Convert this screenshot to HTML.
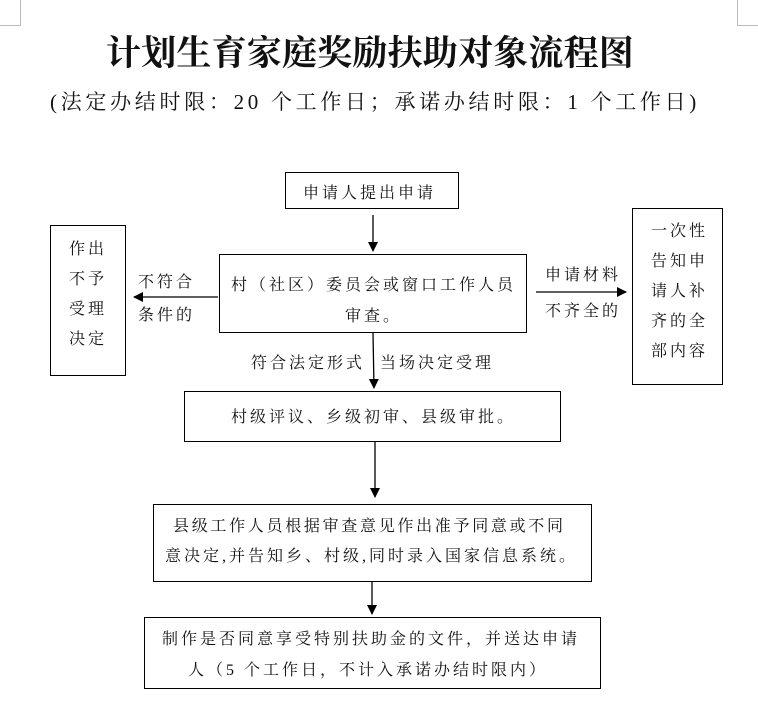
<!DOCTYPE html>
<html><head><meta charset="utf-8"><style>
body{margin:0;width:758px;height:719px;background:#fff;position:relative;overflow:hidden;font-family:"Liberation Serif","Noto Serif CJK SC",serif;color:#111}
.a{position:absolute;white-space:nowrap}
.b{position:absolute;border:1.5px solid #000;box-sizing:border-box}
.t{font-size:16px;letter-spacing:3px}
.l{position:absolute;background:#000}
</style></head><body>
<div class="l" style="left:20px;top:0;width:1px;height:25px;background:#bbb"></div>
<div class="l" style="left:0;top:25px;width:21px;height:1px;background:#bbb"></div>
<div class="l" style="left:737px;top:0;width:1px;height:25px;background:#bbb"></div>
<div class="l" style="left:737px;top:25px;width:21px;height:1px;background:#bbb"></div>

<div class="a" style="left:106px;top:26px;font-size:35px;font-weight:bold;letter-spacing:0.2px">计划生育家庭奖励扶助对象流程图</div>
<div class="a" style="left:50px;top:86px;font-size:21px;letter-spacing:3.7px">(法定办结时限：20 个工作日；承诺办结时限：1 个工作日)</div>

<div class="b" style="left:285px;top:172px;width:174px;height:37px"></div>
<div class="a t" style="left:303px;top:180px">申请人提出申请</div>

<div class="b" style="left:219px;top:254px;width:308px;height:79px"></div>
<div class="a t" style="left:231px;top:272px">村（社区）委员会或窗口工作人员</div>
<div class="a t" style="left:345px;top:303px">审查。</div>

<div class="b" style="left:50px;top:225px;width:76px;height:151px"></div>
<div class="a t" style="left:69px;top:235px;line-height:30px;white-space:normal;width:40px">作出不予受理决定</div>

<div class="b" style="left:632px;top:208px;width:91px;height:177px"></div>
<div class="a t" style="left:651px;top:217px;line-height:30px;white-space:normal;width:60px">一次性告知申请人补齐的全部内容</div>

<div class="a t" style="left:138px;top:269px">不符合</div>
<div class="a t" style="left:138px;top:302px">条件的</div>
<div class="a t" style="left:545px;top:262px">申请材料</div>
<div class="a t" style="left:545px;top:298px">不齐全的</div>
<div class="a t" style="left:251px;top:350px">符合法定形式</div>
<div class="a t" style="left:380px;top:350px">当场决定受理</div>

<div class="b" style="left:184px;top:391px;width:377px;height:51px"></div>
<div class="a t" style="left:231px;top:404px">村级评议、乡级初审、县级审批。</div>

<div class="b" style="left:153px;top:504px;width:439px;height:78px"></div>
<div class="a t" style="left:173px;top:513px;letter-spacing:2.7px">县级工作人员根据审查意见作出准予同意或不同</div>
<div class="a t" style="left:165px;top:543px;letter-spacing:3px">意决定,并告知乡、村级,同时录入国家信息系统。</div>

<div class="b" style="left:144px;top:617px;width:457px;height:72px"></div>
<div class="a t" style="left:162px;top:626px">制作是否同意享受特别扶助金的文件，并送达申请</div>
<div class="a t" style="left:188px;top:657px">人（5 个工作日，不计入承诺办结时限内）</div>

<svg class="a" style="left:0;top:0" width="758" height="719">
<defs><marker id="m" markerWidth="10" markerHeight="10" refX="9" refY="5" orient="auto" markerUnits="userSpaceOnUse"><path d="M0,0 L10,5 L0,10z" fill="#000"/></marker></defs>
<g stroke="#000" stroke-width="1.3" marker-end="url(#m)">
<line x1="373" y1="215" x2="373" y2="251"/>
<line x1="218" y1="297" x2="134" y2="297"/>
<line x1="536" y1="292" x2="626" y2="292"/>
<line x1="373" y1="333" x2="374" y2="388"/>
<line x1="375" y1="442" x2="375" y2="497"/>
<line x1="372" y1="582" x2="372" y2="614"/>
</g></svg>
</body></html>
